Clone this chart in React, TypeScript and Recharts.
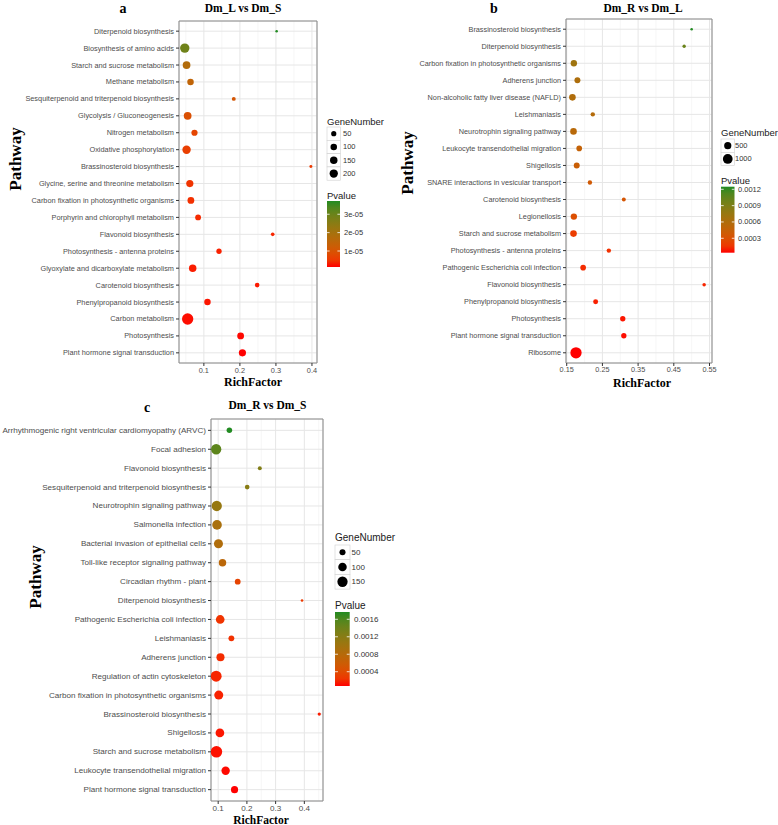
import React from 'react';
import { ScatterChart, Scatter, XAxis, YAxis, CartesianGrid, ReferenceArea } from 'recharts';

// ---------------- DATA ----------------
const aPathways = [
  'Diterpenoid biosynthesis', 'Biosynthesis of amino acids', 'Starch and sucrose metabolism', 'Methane metabolism',
  'Sesquiterpenoid and triterpenoid biosynthesis', 'Glycolysis / Gluconeogenesis', 'Nitrogen metabolism',
  'Oxidative phosphorylation', 'Brassinosteroid biosynthesis', 'Glycine, serine and threonine metabolism',
  'Carbon fixation in photosynthetic organisms', 'Porphyrin and chlorophyll metabolism', 'Flavonoid biosynthesis',
  'Photosynthesis - antenna proteins', 'Glyoxylate and dicarboxylate metabolism', 'Carotenoid biosynthesis',
  'Phenylpropanoid biosynthesis', 'Carbon metabolism', 'Photosynthesis', 'Plant hormone signal transduction',
];
const aRichFactor = [0.302, 0.047, 0.052, 0.063, 0.183, 0.055, 0.074, 0.052, 0.397, 0.061, 0.064, 0.084, 0.291, 0.142, 0.069, 0.248, 0.110, 0.055, 0.202, 0.207];
const aGeneNumber = [10, 279, 166, 100, 21, 166, 88, 209, 11, 134, 114, 73, 17, 53, 150, 34, 100, 450, 114, 134];
const aPvalue = [3.72e-5, 2.93e-5, 1.75e-5, 1.46e-5, 1.06e-5, 9.2e-6, 7.0e-6, 6.0e-6, 5.2e-6, 4.5e-6, 4.0e-6, 3.5e-6, 3.1e-6, 2.7e-6, 2.4e-6, 2.2e-6, 1.95e-6, 1.66e-6, 1.48e-6, 1.3e-6];

const bPathways = [
  'Brassinosteroid biosynthesis', 'Diterpenoid biosynthesis', 'Carbon fixation in photosynthetic organisms',
  'Adherens junction', 'Non-alcoholic fatty liver disease (NAFLD)', 'Leishmaniasis', 'Neurotrophin signaling pathway',
  'Leukocyte transendothelial migration', 'Shigellosis', 'SNARE interactions in vesicular transport',
  'Carotenoid biosynthesis', 'Legionellosis', 'Starch and sucrose metabolism', 'Photosynthesis - antenna proteins',
  'Pathogenic Escherichia coli infection', 'Flavonoid biosynthesis', 'Phenylpropanoid biosynthesis', 'Photosynthesis',
  'Plant hormone signal transduction', 'Ribosome',
];
const bRichFactor = [0.500, 0.479, 0.170, 0.180, 0.166, 0.223, 0.169, 0.185, 0.178, 0.215, 0.310, 0.170, 0.169, 0.268, 0.196, 0.535, 0.231, 0.307, 0.310, 0.176];
const bGeneNumber = [150, 161, 384, 338, 422, 204, 422, 307, 338, 204, 183, 384, 422, 204, 307, 165, 245, 278, 278, 1400];
const bPvalue = [1.248e-3, 1.005e-3, 7.02e-4, 6.17e-4, 5.93e-4, 5.69e-4, 5.44e-4, 4.6e-4, 4.23e-4, 3.75e-4, 3.38e-4, 2.9e-4, 1.81e-4, 1.32e-4, 1.14e-4, 9.6e-5, 7.7e-5, 5.9e-5, 4.7e-5, 3.5e-5];

const cPathways = [
  'Arrhythmogenic right ventricular cardiomyopathy (ARVC)', 'Focal adhesion', 'Flavonoid biosynthesis',
  'Sesquiterpenoid and triterpenoid biosynthesis', 'Neurotrophin signaling pathway', 'Salmonella infection',
  'Bacterial invasion of epithelial cells', 'Toll-like receptor signaling pathway', 'Circadian rhythm - plant',
  'Diterpenoid biosynthesis', 'Pathogenic Escherichia coli infection', 'Leishmaniasis', 'Adherens junction',
  'Regulation of actin cytoskeleton', 'Carbon fixation in photosynthetic organisms', 'Brassinosteroid biosynthesis',
  'Shigellosis', 'Starch and sucrose metabolism', 'Leukocyte transendothelial migration', 'Plant hormone signal transduction',
];
const cRichFactor = [0.139, 0.093, 0.245, 0.201, 0.095, 0.096, 0.101, 0.115, 0.168, 0.392, 0.107, 0.146, 0.108, 0.093, 0.102, 0.452, 0.106, 0.094, 0.126, 0.157];
const cGeneNumber = [43, 150, 29, 34, 150, 129, 113, 75, 47, 25, 103, 47, 89, 172, 113, 26, 103, 192, 96, 69];
const cPvalue = [1.767e-3, 1.513e-3, 1.259e-3, 1.208e-3, 1.089e-3, 9.2e-4, 8.52e-4, 7.51e-4, 3.27e-4, 2.59e-4, 2.25e-4, 2.08e-4, 1.83e-4, 1.58e-4, 1.41e-4, 1.24e-4, 1.07e-4, 9.7e-5, 8.5e-5, 7.3e-5];

const aXTicks = [0.1, 0.2, 0.3, 0.4];
const aXMinor = [0.05, 0.15, 0.25, 0.35];
const bXTicks = [0.15, 0.25, 0.35, 0.45, 0.55];
const bXMinor = [0.2, 0.3, 0.4, 0.5];
const cXTicks = [0.1, 0.2, 0.3, 0.4];
const cXMinor = [0.15, 0.25, 0.35, 0.45];

const aSizeBreaks = [50, 100, 150, 200];
const bSizeBreaks = [500, 1000];
const cSizeBreaks = [50, 100, 150];
const aPBreaks = [1e-5, 2e-5, 3e-5];
const aPLabels = ['1e-05', '2e-05', '3e-05'];
const bPBreaks = [0.0003, 0.0006, 0.0009, 0.0012];
const bPLabels = ['0.0003', '0.0006', '0.0009', '0.0012'];
const cPBreaks = [0.0004, 0.0008, 0.0012, 0.0016];
const cPLabels = ['0.0004', '0.0008', '0.0012', '0.0016'];

const titles = ['Dm_L vs Dm_S', 'Dm_R vs Dm_L', 'Dm_R vs Dm_S'];
const panelLetters = ['a', 'b', 'c'];

// ---------------- HELPERS ----------------
const SANS = '"Liberation Sans", Arial, Helvetica, sans-serif';
const SERIF = '"Liberation Serif", "Times New Roman", serif';

function hexToRgb(h: string) {
  const v = h.replace('#', '');
  return [parseInt(v.slice(0, 2), 16), parseInt(v.slice(2, 4), 16), parseInt(v.slice(4, 6), 16)];
}
const toLin = (c: number) => { c /= 255; return c <= 0.04045 ? c / 12.92 : Math.pow((c + 0.055) / 1.055, 2.4); };
const toSrgb = (c: number) => {
  const v = c <= 0.0031308 ? 12.92 * c : 1.055 * Math.pow(c, 1 / 2.4) - 0.055;
  return Math.round(Math.max(0, Math.min(1, v)) * 255);
};
function rgbToLab(rgb: number[]) {
  const [R, G, B] = rgb.map(toLin);
  const X = (0.4124 * R + 0.3576 * G + 0.1805 * B) / 0.95047;
  const Y = 0.2126 * R + 0.7152 * G + 0.0722 * B;
  const Z = (0.0193 * R + 0.1192 * G + 0.9505 * B) / 1.08883;
  const f = (t: number) => (t > 0.008856 ? Math.cbrt(t) : 7.787 * t + 16 / 116);
  const fx = f(X), fy = f(Y), fz = f(Z);
  return [116 * fy - 16, 500 * (fx - fy), 200 * (fy - fz)];
}
function labToHex(L: number, a: number, b: number) {
  const fy = (L + 16) / 116, fx = fy + a / 500, fz = fy - b / 200;
  const inv = (t: number) => (t * t * t > 0.008856 ? t * t * t : (t - 16 / 116) / 7.787);
  const X = 0.95047 * inv(fx), Y = inv(fy), Z = 1.08883 * inv(fz);
  const R = 3.2406 * X - 1.5372 * Y - 0.4986 * Z;
  const G = -0.9689 * X + 1.8758 * Y + 0.0415 * Z;
  const B = 0.0557 * X - 0.204 * Y + 1.057 * Z;
  return '#' + [R, G, B].map((c) => toSrgb(c).toString(16).padStart(2, '0')).join('');
}
const LOW = rgbToLab(hexToRgb('#ff0000'));
const HIGH = rgbToLab(hexToRgb('#228b22'));
function gradColor(t: number) {
  const u = Math.max(0, Math.min(1, t));
  return labToHex(LOW[0] + (HIGH[0] - LOW[0]) * u, LOW[1] + (HIGH[1] - LOW[1]) * u, LOW[2] + (HIGH[2] - LOW[2]) * u);
}
function sizeRadius(n: number, lo: number, hi: number, c: number) {
  const t = hi > lo ? Math.max(0, (n - lo) / (hi - lo)) : 0;
  return (c * (1 + 5 * Math.sqrt(t))) / 2 + 0.4;
}

// ---------------- PANELS ----------------
type PanelCfg = {
  key: string; names: string[]; rich: number[]; genes: number[]; pv: number[];
  xTicks: number[]; xMinor: number[]; xDomain: [number, number];
  left: number; top: number; width: number; height: number; mt: number; mr: number; yw: number; xh: number;
  tickFont: number; dotC: number;
  sizeBreaks: number[]; pBreaks: number[]; pLabels: string[];
  leg: { x: number; gTitleY: number; keyTop: number; keyH: number; keyW: number; labelX: number; pTitleY: number; barTop: number; barBottom: number; barW: number; barLabelX: number; titleFont: number; labelFont: number };
  title: string; letter: string; titleX: number; titleY: number; letterX: number; letterY: number;
  pathX: number; pathY: number; rfX: number; rfY: number; rfFont: number;
};

const panels: PanelCfg[] = [
  {
    key: 'a', names: aPathways, rich: aRichFactor, genes: aGeneNumber, pv: aPvalue,
    xTicks: aXTicks, xMinor: aXMinor, xDomain: [0.031, 0.414],
    left: 0, top: 0, width: 330, height: 400, mt: 21, mr: 13, yw: 179, xh: 37, tickFont: 7.35, dotC: 1.75,
    sizeBreaks: aSizeBreaks, pBreaks: aPBreaks, pLabels: aPLabels,
    leg: { x: 327, gTitleY: 121, keyTop: 127, keyH: 13.3, keyW: 13.5, labelX: 343, pTitleY: 195, barTop: 201, barBottom: 267, barW: 13, barLabelX: 344, titleFont: 9.5, labelFont: 7.5 },
    title: titles[0], letter: panelLetters[0], titleX: 243, titleY: 7.5, letterX: 123, letterY: 8,
    pathX: 15, pathY: 159, rfX: 253, rfY: 382, rfFont: 12,
  },
  {
    key: 'b', names: bPathways, rich: bRichFactor, genes: bGeneNumber, pv: bPvalue,
    xTicks: bXTicks, xMinor: bXMinor, xDomain: [0.148, 0.557],
    left: 400, top: 0, width: 320, height: 400, mt: 19, mr: 8, yw: 166, xh: 37, tickFont: 7.3, dotC: 1.75,
    sizeBreaks: bSizeBreaks, pBreaks: bPBreaks, pLabels: bPLabels,
    leg: { x: 721, gTitleY: 132.7, keyTop: 139, keyH: 13.3, keyW: 13.5, labelX: 735, pTitleY: 180, barTop: 186.7, barBottom: 252.7, barW: 13.5, barLabelX: 738, titleFont: 9.5, labelFont: 7.5 },
    title: titles[1], letter: panelLetters[1], titleX: 643, titleY: 7.5, letterX: 494, letterY: 8,
    pathX: 407, pathY: 163, rfX: 642, rfY: 383, rfFont: 12,
  },
  {
    key: 'c', names: cPathways, rich: cRichFactor, genes: cGeneNumber, pv: cPvalue,
    xTicks: cXTicks, xMinor: cXMinor, xDomain: [0.075, 0.465],
    left: 0, top: 400, width: 340, height: 425, mt: 19, mr: 17, yw: 211, xh: 24, tickFont: 8.1, dotC: 1.78,
    sizeBreaks: cSizeBreaks, pBreaks: cPBreaks, pLabels: cPLabels,
    leg: { x: 335, gTitleY: 537.3, keyTop: 545, keyH: 14.7, keyW: 15, labelX: 351.5, pTitleY: 605, barTop: 612, barBottom: 686, barW: 14.7, barLabelX: 354, titleFont: 10, labelFont: 8 },
    title: titles[2], letter: panelLetters[2], titleX: 267.5, titleY: 405, letterX: 147, letterY: 407,
    pathX: 35, pathY: 577, rfX: 261, rfY: 819.5, rfFont: 11.5,
  },
];

function Panel({ cfg }: { cfg: PanelCfg }) {
  const n = cfg.names.length;
  const rows = cfg.names.map((_, i) => i);
  const gLo = Math.min(...cfg.genes), gHi = Math.max(...cfg.genes);
  const pLo = Math.min(...cfg.pv), pHi = Math.max(...cfg.pv);
  const data = cfg.names.map((name, i) => ({ name, row: i, rich: cfg.rich[i], genes: cfg.genes[i], p: cfg.pv[i] }));
  const shape = (props: any) => {
    const { cx, cy, payload } = props;
    if (cx == null || cy == null) return <g />;
    return <circle cx={cx} cy={cy} r={sizeRadius(payload.genes, gLo, gHi, cfg.dotC)} fill={gradColor((payload.p - pLo) / (pHi - pLo))} />;
  };
  const YTick = (props: any) => (
    <text x={props.x} y={props.y} textAnchor="end" dominantBaseline="central" fontSize={cfg.tickFont} fontFamily={SANS} fill="#4d4d4d">
      {cfg.names[props.payload.value]}
    </text>
  );
  const XTick = (props: any) => (
    <text x={props.x} y={props.y} dy="0.75em" textAnchor="middle" fontSize={cfg.tickFont} fontFamily={SANS} fill="#4d4d4d">
      {String(props.payload.value)}
    </text>
  );
  return (
    <div style={{ position: 'absolute', left: cfg.left, top: cfg.top }}>
      <ScatterChart width={cfg.width} height={cfg.height} margin={{ top: cfg.mt, right: cfg.mr, bottom: 0, left: 0 }}>
        <XAxis xAxisId="minor" type="number" dataKey="rich" domain={cfg.xDomain} ticks={cfg.xMinor} allowDataOverflow hide />
        <CartesianGrid xAxisId="minor" horizontal={false} stroke="#f2f2f2" strokeWidth={0.7} fill="#ffffff" />
        <CartesianGrid stroke="#e6e6e6" strokeWidth={1} />
        <XAxis type="number" dataKey="rich" domain={cfg.xDomain} ticks={cfg.xTicks} allowDataOverflow interval={0}
          axisLine={false} tickSize={3} tickMargin={1} tickLine={{ stroke: '#333333' }} height={cfg.xh} tick={<XTick />} />
        <YAxis type="number" dataKey="row" domain={[-0.6, n - 0.4]} reversed ticks={rows} allowDataOverflow interval={0}
          axisLine={false} tickSize={3} tickMargin={2} tickLine={{ stroke: '#333333' }} width={cfg.yw} tick={<YTick />} />
        <ReferenceArea x1={cfg.xDomain[0]} x2={cfg.xDomain[1]} y1={-0.6} y2={n - 0.4} fill="none" fillOpacity={0}
          stroke="#8a8a8a" strokeWidth={1} ifOverflow="visible" />
        <Scatter data={data} isAnimationActive={false} shape={shape} />
      </ScatterChart>
    </div>
  );
}

function Legend({ cfg }: { cfg: PanelCfg }) {
  const L = cfg.leg;
  const gLo = Math.min(...cfg.genes), gHi = Math.max(...cfg.genes);
  const pLo = Math.min(...cfg.pv), pHi = Math.max(...cfg.pv);
  const gradId = 'grad-' + cfg.key;
  const stops = Array.from({ length: 11 }, (_, i) => i / 10);
  const barY = (v: number) => L.barBottom - ((v - pLo) / (pHi - pLo)) * (L.barBottom - L.barTop);
  return (
    <g>
      <defs>
        <linearGradient id={gradId} x1="0" y1="1" x2="0" y2="0">
          {stops.map((s) => <stop key={s} offset={s} stopColor={gradColor(s)} />)}
        </linearGradient>
      </defs>
      <text x={L.x} y={L.gTitleY} dominantBaseline="central" fontSize={L.titleFont} fontFamily={SANS} fill="#1a1a1a">GeneNumber</text>
      {cfg.sizeBreaks.map((b, i) => {
        const top = L.keyTop + i * L.keyH;
        return (
          <g key={b}>
            <rect x={L.x} y={top} width={L.keyW} height={L.keyH} fill="#ffffff" stroke="#d0d0d0" strokeWidth={0.6} />
            <circle cx={L.x + L.keyW / 2} cy={top + L.keyH / 2} r={sizeRadius(b, gLo, gHi, cfg.dotC)} fill="#000000" />
            <text x={L.labelX} y={top + L.keyH / 2} dominantBaseline="central" fontSize={L.labelFont} fontFamily={SANS} fill="#333333">{b}</text>
          </g>
        );
      })}
      <text x={L.x} y={L.pTitleY} dominantBaseline="central" fontSize={L.titleFont} fontFamily={SANS} fill="#1a1a1a">Pvalue</text>
      <rect x={L.x} y={L.barTop} width={L.barW} height={L.barBottom - L.barTop} fill={`url(#${gradId})`} />
      {cfg.pBreaks.map((v, i) => {
        const y = barY(v);
        return (
          <g key={v}>
            <line x1={L.x} x2={L.x + L.barW / 5} y1={y} y2={y} stroke="#ffffff" strokeWidth={0.8} />
            <line x1={L.x + L.barW * 0.8} x2={L.x + L.barW} y1={y} y2={y} stroke="#ffffff" strokeWidth={0.8} />
            <text x={L.barLabelX} y={y} dominantBaseline="central" fontSize={L.labelFont} fontFamily={SANS} fill="#333333">{cfg.pLabels[i]}</text>
          </g>
        );
      })}
    </g>
  );
}

function Annotations({ cfg }: { cfg: PanelCfg }) {
  return (
    <g fontFamily={SERIF} fontWeight="bold" fill="#000000">
      <text x={cfg.letterX} y={cfg.letterY} textAnchor="middle" dominantBaseline="central" fontSize={14}>{cfg.letter}</text>
      <text x={cfg.titleX} y={cfg.titleY} textAnchor="middle" dominantBaseline="central" fontSize={11.5}>{cfg.title}</text>
      <text x={cfg.pathX} y={cfg.pathY} textAnchor="middle" dominantBaseline="central" fontSize={17}
        transform={`rotate(-90 ${cfg.pathX} ${cfg.pathY})`}>Pathway</text>
      <text x={cfg.rfX} y={cfg.rfY} textAnchor="middle" dominantBaseline="central" fontSize={cfg.rfFont}>RichFactor</text>
    </g>
  );
}

export default function App() {
  return (
    <div style={{ position: 'absolute', left: 0, top: 0, width: 778, height: 825, background: '#ffffff', overflow: 'hidden' }}>
      {panels.map((p) => <Panel key={p.key} cfg={p} />)}
      <svg width={778} height={825} style={{ position: 'absolute', left: 0, top: 0, pointerEvents: 'none' }}>
        {panels.map((p) => (
          <g key={p.key}>
            <Legend cfg={p} />
            <Annotations cfg={p} />
          </g>
        ))}
      </svg>
    </div>
  );
}
